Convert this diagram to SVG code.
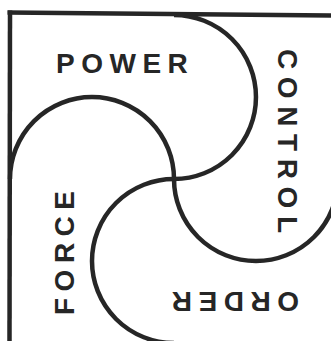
<svg xmlns="http://www.w3.org/2000/svg" width="331" height="341" viewBox="0 0 331 341">
<style>
.ln{fill:none;stroke:#262626;stroke-width:4.5;stroke-linecap:butt}
.lb{font-family:"Liberation Sans",Arial,sans-serif;font-weight:bold;font-size:28px;fill:#262626;letter-spacing:6.5px}
</style>
<rect width="331" height="341" fill="#ffffff"/>
<g id="frame">
<line class="ln" x1="7.5" y1="12.5" x2="331" y2="15.5"/>
<line class="ln" x1="10" y1="10.5" x2="9.5" y2="341"/>
</g>
<g id="connectors">
<path class="ln" d="M10,179 A82,82 0 0 1 174,179 A82,82 0 0 0 338,179"/>
<path class="ln" d="M174,15 A82,82 0 0 1 174,179 A82,82 0 0 0 174,343"/>
</g>
<g id="power"><text class="lb" x="56" y="73">POWER</text></g>
<g id="control"><text class="lb" style="letter-spacing:7.6px" transform="translate(278,49) rotate(90)">CONTROL</text></g>
<g id="force"><text class="lb" transform="translate(74,315) rotate(-90)">FORCE</text></g>
<g id="order"><text class="lb" transform="translate(299,292) rotate(180)">ORDER</text></g>
</svg>
